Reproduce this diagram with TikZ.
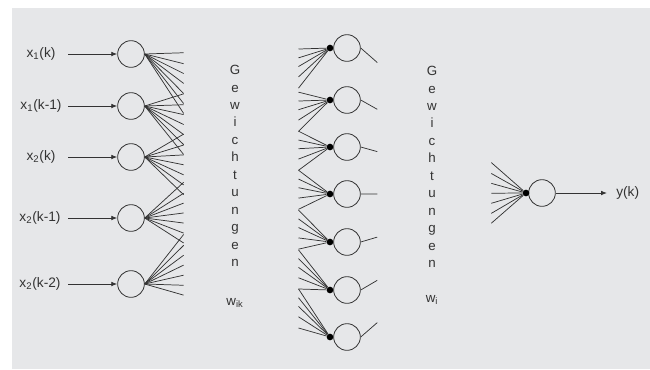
\documentclass[tikz,border=0pt]{standalone}
\usepackage{fontspec}
\setmainfont{Liberation Sans}
\usetikzlibrary{calc,arrows.meta}
\definecolor{bg}{HTML}{E6E7E9}
\definecolor{ink}{HTML}{333333}
\tikzset{
  neuron/.style={circle,draw=ink,line width=0.6pt,minimum size=20pt,inner sep=0pt,fill=none},
  wdot/.style={circle,fill=black,minimum size=5pt,inner sep=0pt},
  wire/.style={draw=ink,line width=0.55pt},
  feed/.style={draw=ink,line width=0.6pt,-{Latex[length=4.5pt,width=3.5pt]}},
  lbl/.style={font=\fontsize{10.3}{12}\selectfont,inner sep=0pt,text=ink},
  vtext/.style={font=\fontsize{10}{13.1}\selectfont,align=center,inner sep=0pt,text=ink}
}
\begin{document}
\begin{tikzpicture}[x=0.75pt,y=-0.75pt]
\useasboundingbox (0,0) rectangle (650,369);
\fill[white] (0,0) rectangle (650,369);
\fill[bg] (12,8) rectangle (650,369);

% input layer
\foreach \i/\y in {1/54,2/106,3/157,4/218,5/284}{
  \node[neuron] (i\i) at (131,\y) {};
  \coordinate (a\i) at (68,\y);
}
\node[lbl] (l1) at (41,54) {x\textsubscript{1}(k)};
\node[lbl] (l2) at (41,106) {x\textsubscript{1}(k-1)};
\node[lbl] (l3) at (41,157) {x\textsubscript{2}(k)};
\node[lbl] (l4) at (40,218) {x\textsubscript{2}(k-1)};
\node[lbl] (l5) at (40,284) {x\textsubscript{2}(k-2)};
\foreach \i in {1,...,5}{ \draw[feed] (a\i) -- (i\i.west); }

% hidden layer
\foreach \j/\y in {1/48,2/100,3/147,4/194,5/242,6/290,7/337}{
  \node[neuron] (h\j) at (347,\y) {};
  \node[wdot] (d\j) at (330,\y) {};
}

% output neuron
\node[neuron] (o) at (542,193) {};
\node[wdot] (do) at (526,193) {};
\coordinate (ya) at (607,193);
\node[lbl,anchor=west] (y) at (616,193) {y(k)};
\draw[feed] (o.east) -- (ya);

% weight lines, input side
\foreach \i in {1,...,5}{
  \foreach \j in {1,...,7}{
    \draw[wire] (i\i.east) -- ($(i\i.east)!0.21!(d\j)$);
    \draw[wire] ($(d\j)!0.17!(i\i.east)$) -- (d\j);
  }
}
% weight lines, output side
\foreach \j in {1,...,7}{
  \draw[wire] (h\j.east) -- ($(h\j.east)!0.1!(do)$);
  \draw[wire] ($(do)!0.21!(h\j.east)$) -- (do);
}

% texts
\node[vtext] (g1) at (235,166) {G\\e\\w\\i\\c\\h\\t\\u\\n\\g\\e\\n};
\node[vtext] (w1) at (235,303) {w\textsubscript{ik}};
\node[vtext] (g2) at (432,167) {G\\e\\w\\i\\c\\h\\t\\u\\n\\g\\e\\n};
\node[vtext] (w2) at (432,300) {w\textsubscript{i}};
\end{tikzpicture}
\end{document}
